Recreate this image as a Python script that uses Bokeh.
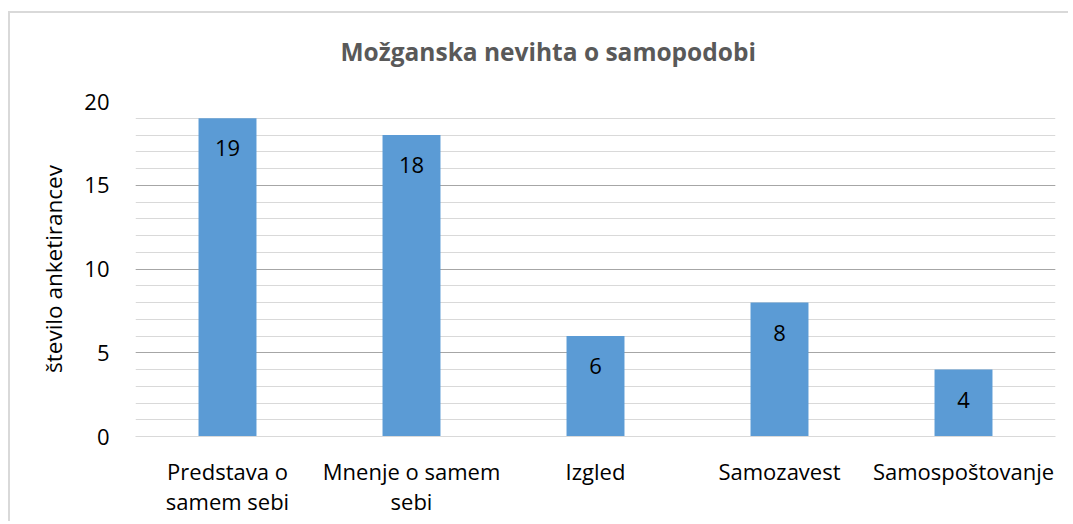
from bokeh.plotting import figure
from bokeh.models import (ColumnDataSource, FactorRange, Range1d, SingleIntervalTicker, Title)
from bokeh.core.properties import value
from bokeh.embed import file_html
from bokeh.resources import INLINE

# ---- data ----
categories = ["Predstava o\nsamem sebi", "Mnenje o samem\nsebi", "Izgled", "Samozavest", "Samospoštovanje"]
counts = [19, 18, 6, 8, 4]
title_text = "Možganska nevihta o samopodobi"
y_label = "število anketirancev"

FONT = "Open Sans"

src = ColumnDataSource(dict(cat=categories, val=counts, lab=[str(v) for v in counts]))

p = figure(x_range=FactorRange(*categories), y_range=Range1d(0, 20),
           frame_width=920, frame_height=335, output_backend="svg", toolbar_location=None,
           min_border_left=125, min_border_right=13, min_border_top=88, min_border_bottom=85,
           title=None)
p.styles = {"border-left": "2px solid #d9d9d9", "border-top": "2px solid #d9d9d9",
            "margin-left": "8px", "margin-top": "11px"}
p.outline_line_color = None
p.background_fill_color = "white"
p.border_fill_color = "white"

# spacer (nearest the frame) then the real title
spacer = Title(text=" ", text_font_size="1px", standoff=31)
p.add_layout(spacer, "above")
main_title = Title(text=title_text, align="left", offset=205, standoff=0,
                   text_font=FONT, text_font_size="24.5px", text_font_style="bold",
                   text_color="#595959")
p.add_layout(main_title, "above")

p.vbar(x="cat", top="val", width=0.315, source=src, color="#5b9bd5", line_color=None)
p.text(x="cat", y="val", text="lab", source=src, y_offset=30,
       text_align="center", text_baseline="middle",
       text_font=value(FONT), text_font_size="22px", text_color="black")

# grids
p.xgrid.grid_line_color = None
p.yaxis.ticker = SingleIntervalTicker(interval=5, num_minor_ticks=5)
p.ygrid.grid_line_color = "#a6a6a6"
p.ygrid.grid_line_width = 1
p.ygrid.minor_grid_line_color = "#d9d9d9"
p.ygrid.minor_grid_line_width = 1

# y axis
p.yaxis.axis_line_color = None
p.yaxis.major_tick_line_color = None
p.yaxis.minor_tick_line_color = None
p.yaxis.major_tick_out = 0
p.yaxis.major_tick_in = 0
p.yaxis.minor_tick_out = 0
p.yaxis.major_label_standoff = 26
p.yaxis.major_label_text_font = FONT
p.yaxis.major_label_text_font_size = "22px"
p.yaxis.major_label_text_color = "black"
p.yaxis.axis_label = y_label
p.yaxis.axis_label_text_font = FONT
p.yaxis.axis_label_text_font_size = "22.5px"
p.yaxis.axis_label_text_font_style = "normal"
p.yaxis.axis_label_text_color = "black"
p.yaxis.axis_label_standoff = 12

# x axis
p.xaxis.axis_line_color = "#d9d9d9"
p.xaxis.axis_line_width = 1
p.xaxis.major_tick_line_color = None
p.xaxis.minor_tick_line_color = None
p.xaxis.major_tick_out = 0
p.xaxis.major_tick_in = 0
p.xaxis.axis_label_standoff = 0
p.xaxis.major_label_standoff = 19
p.xaxis.major_label_text_font = FONT
p.xaxis.major_label_text_font_size = "22px"
p.xaxis.major_label_text_color = "black"
p.xaxis.major_label_text_line_height = 1.0

open("out.html", "w").write(file_html(p, INLINE))
